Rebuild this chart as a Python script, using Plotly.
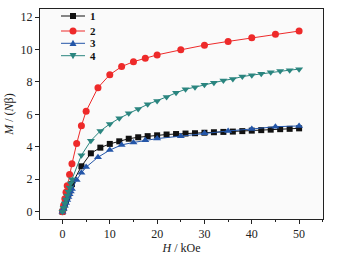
import plotly.graph_objects as go

# ---- data ----
h1 = [0, 0.25, 0.5, 0.75, 1, 1.25, 1.5, 1.75, 2, 4, 6, 8, 10, 12, 14, 16, 18, 20, 22, 24, 26, 28, 30,
      32, 34, 36, 38, 40, 42, 44, 46, 48, 50]
m1 = [0, 0.22, 0.45, 0.67, 0.9, 1.1, 1.3, 1.5, 1.7, 2.8, 3.6, 3.95, 4.18, 4.34, 4.5, 4.59, 4.66, 4.71,
      4.76, 4.79, 4.82, 4.84, 4.87, 4.9, 4.92, 4.94, 4.97, 5.0, 5.03, 5.06, 5.09, 5.11, 5.14]

h2 = [0, 0.25, 0.5, 0.75, 1, 1.5, 2, 3, 4, 5, 7.5, 10, 12.5, 15, 17.5, 20, 25, 30, 35, 40, 45, 50]
m2 = [0, 0.4, 0.8, 1.2, 1.6, 2.3, 2.95, 4.2, 5.3, 6.2, 7.65, 8.45, 8.95, 9.25, 9.47, 9.67, 9.98,
      10.27, 10.5, 10.72, 10.95, 11.14]

h3 = [0, 0.25, 0.5, 0.75, 1, 1.25, 1.5, 1.75, 2, 3, 4, 5, 7.5, 10, 12.5, 15, 17.5, 20, 25, 30, 35,
      40, 45, 50]
m3 = [0, 0.18, 0.36, 0.54, 0.72, 0.9, 1.07, 1.24, 1.4, 1.95, 2.4, 2.75, 3.36, 3.8, 4.12, 4.27, 4.4,
      4.51, 4.66, 4.84, 4.98, 5.1, 5.24, 5.29]

h4 = [0, 0.25, 0.5, 0.75, 1, 1.25, 1.5, 1.75, 2, 4, 6, 8, 10, 12, 14, 16, 18, 20, 22, 24, 26, 28, 30,
      32, 34, 36, 38, 40, 42, 44, 46, 48, 50]
m4 = [0, 0.25, 0.5, 0.75, 1.0, 1.25, 1.5, 1.75, 2.0, 3.48, 4.38, 4.98, 5.41, 5.76, 6.07, 6.34, 6.62,
      6.83, 7.08, 7.33, 7.55, 7.68, 7.83, 7.95, 8.09, 8.19, 8.33, 8.42, 8.5, 8.6, 8.67, 8.73, 8.79]

names = ["1", "2", "3", "4"]
x_ticks = [0, 10, 20, 30, 40, 50]
y_ticks = [0, 2, 4, 6, 8, 10, 12]

FONT = "Liberation Serif"
W, H = 345, 255
ML, MR, MT, MB = 40, 22, 9, 36
PW, PH = W - ML - MR, H - MT - MB

series = [
    (h1, m1, names[0], "#111111", "square", 6),
    (h2, m2, names[1], "#ee2a2a", "circle", 7),
    (h3, m3, names[2], "#2456a8", "triangle-up", 7),
    (h4, m4, names[3], "#2a857f", "triangle-down", 7),
]

fig = go.Figure()
for x, y, n, c, sym, sz in series:
    fig.add_trace(go.Scatter(
        x=x, y=y, name=n, mode="lines+markers",
        line=dict(color=c, width=1),
        marker=dict(symbol=sym, size=sz, color=c, line=dict(width=0)),
    ))

axis_common = dict(
    showline=True, linecolor="#222", linewidth=1, mirror=True,
    ticks="outside", ticklen=4, tickcolor="#222", tickwidth=1,
    showgrid=False, zeroline=False, automargin=False,
    tickfont=dict(family=FONT, size=12, color="#222"),
)

fig.update_xaxes(
    range=[-4.75, 55.05], tickvals=x_ticks,
    minor=dict(dtick=5, tick0=0, ticks="outside", ticklen=2, tickcolor="#222"),
    title=dict(text="<i>H</i> / kOe", font=dict(family=FONT, size=12, color="#222"), standoff=3),
    **axis_common,
)
fig.update_yaxes(
    range=[-0.45, 12.5], tickvals=y_ticks,
    title=dict(text="<i>M</i> / (<i>N</i>β)", font=dict(family=FONT, size=12, color="#222"), standoff=4),
    **axis_common,
)

# ---- legend drawn as layout decorations (pixel positions in the figure) ----
def px_x(px):
    return (px - ML) / PW


def px_y(py):
    return (H - MB - py) / PH


leg_rows = [16, 31, 43.3, 55.7]
line_x0, line_x1, mark_x, text_x = 61, 85, 73, 88
shapes = []
annotations = []
for (x, y, n, c, sym, sz), ry in zip(series, leg_rows):
    yy = px_y(ry)
    shapes.append(dict(type="line", xref="paper", yref="paper",
                       x0=px_x(line_x0), x1=px_x(line_x1), y0=yy, y1=yy,
                       line=dict(color=c, width=1)))
    common = dict(xref="paper", yref="paper", xsizemode="pixel", ysizemode="pixel",
                  xanchor=px_x(mark_x), yanchor=yy, fillcolor=c, line=dict(width=0))
    r = sz / 2
    if sym == "square":
        shapes.append(dict(type="rect", x0=-r, x1=r, y0=-r, y1=r, **common))
    elif sym == "circle":
        shapes.append(dict(type="circle", x0=-r, x1=r, y0=-r, y1=r, **common))
    elif sym == "triangle-up":
        shapes.append(dict(type="path", path=f"M {-r} {-r*0.8} L {r} {-r*0.8} L 0 {r} Z", **common))
    else:
        shapes.append(dict(type="path", path=f"M {-r} {r*0.8} L {r} {r*0.8} L 0 {-r} Z", **common))
    annotations.append(dict(text=f"<b>{n}</b>", xref="paper", yref="paper",
                            x=px_x(text_x), y=yy, xanchor="left", yanchor="middle",
                            showarrow=False, font=dict(family=FONT, size=11, color="#111")))

fig.update_layout(
    width=W, height=H,
    margin=dict(l=ML, r=MR, t=MT, b=MB),
    paper_bgcolor="white", plot_bgcolor="#fafafa",
    showlegend=False,
    shapes=shapes, annotations=annotations,
)

fig.write_html(
    "out.html",
    config={"displayModeBar": False},
    post_script="document.body.style.margin='0';document.body.style.padding='0';",
)
